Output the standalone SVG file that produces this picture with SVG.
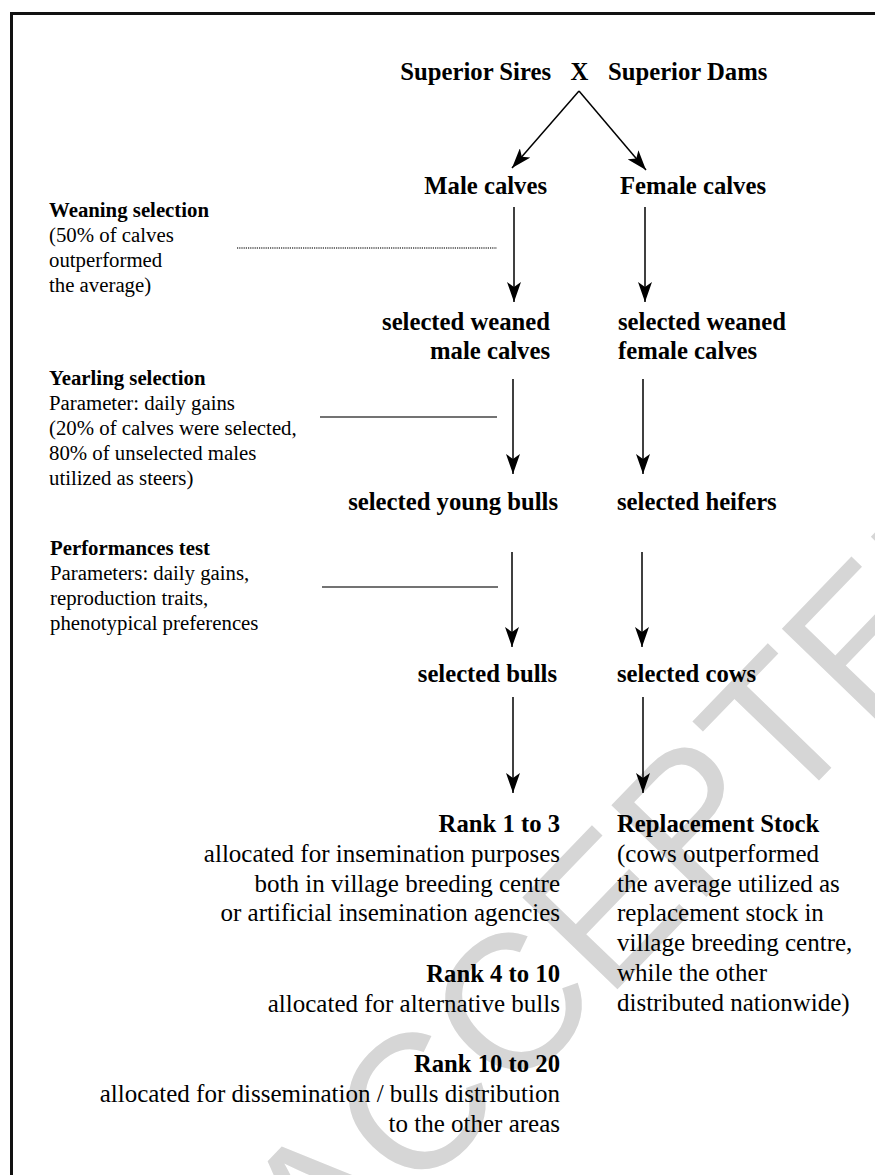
<svg xmlns="http://www.w3.org/2000/svg" width="875" height="1175" viewBox="0 0 875 1175">
<style>
.b{font-family:"Liberation Serif","Times New Roman",serif;font-weight:bold;font-size:24.7px;fill:#000}
.r{font-family:"Liberation Serif","Times New Roman",serif;font-size:25px;fill:#000}
.lb{font-family:"Liberation Serif","Times New Roman",serif;font-weight:bold;font-size:20.8px;fill:#000}
.lr{font-family:"Liberation Serif","Times New Roman",serif;font-size:20.8px;fill:#000}
.e{text-anchor:end}
.arr{stroke:#000;stroke-width:1.5;fill:none;marker-end:url(#ah)}
.lead{stroke:#444;stroke-width:1.4;fill:none}
.wm{font-family:"Liberation Sans",Arial,sans-serif;font-size:192px;fill:#d6d6d6}
</style>
<defs>
<marker id="ah" viewBox="0 0 20 14" refX="20" refY="7" markerWidth="20" markerHeight="14" markerUnits="userSpaceOnUse" orient="auto">
<path d="M0,0 L20,7 L0,14 L5,7 Z" fill="#000"/>
</marker>
</defs>
<rect width="875" height="1175" fill="#fff"/>
<g id="watermark">
<text class="wm" transform="translate(325,1292) rotate(-46)">ACCEPTED</text>
</g>
<rect x="11.5" y="13.5" width="900" height="1200" fill="none" stroke="#111" stroke-width="3"/>
<g id="connectors">
<line class="arr" x1="579" y1="91" x2="512" y2="168"/>
<line class="arr" x1="579" y1="91" x2="646" y2="170"/>
<line class="arr" x1="514" y1="207" x2="514" y2="302"/>
<line class="arr" x1="645" y1="207" x2="645" y2="302"/>
<line class="arr" x1="513" y1="379" x2="513" y2="474"/>
<line class="arr" x1="643" y1="379" x2="643" y2="474"/>
<line class="arr" x1="512" y1="552" x2="512" y2="647"/>
<line class="arr" x1="642" y1="552" x2="642" y2="647"/>
<line class="arr" x1="513" y1="697" x2="513" y2="793"/>
<line class="arr" x1="643" y1="697" x2="643" y2="793"/>
<line class="lead" x1="237" y1="248" x2="497" y2="248" stroke-dasharray="1.2 1"/>
<line class="lead" x1="320" y1="417" x2="497" y2="417"/>
<line class="lead" x1="322" y1="587" x2="498" y2="587"/>
</g>
<g id="parents">
<text class="b e" x="551" y="80">Superior Sires</text>
<text class="b" x="579.5" y="80" text-anchor="middle">X</text>
<text class="b" x="608" y="80">Superior Dams</text>
</g>
<g id="male-calves"><text class="b e" x="547" y="194">Male calves</text></g>
<g id="female-calves"><text class="b" x="620" y="194">Female calves</text></g>
<g id="weaned-male"><text class="b e" x="550" y="330">selected weaned</text><text class="b e" x="550" y="359">male calves</text></g>
<g id="weaned-female"><text class="b" x="618" y="330">selected weaned</text><text class="b" x="618" y="359">female calves</text></g>
<g id="young-bulls"><text class="b e" x="558" y="510">selected young bulls</text></g>
<g id="heifers"><text class="b" x="617" y="510">selected heifers</text></g>
<g id="bulls"><text class="b e" x="557" y="682">selected bulls</text></g>
<g id="cows"><text class="b" x="617" y="682">selected cows</text></g>
<g id="weaning-selection">
<text class="lb" x="49" y="217">Weaning selection</text>
<text class="lr" x="49" y="242">(50% of calves</text>
<text class="lr" x="49" y="267">outperformed</text>
<text class="lr" x="49" y="292">the average)</text>
</g>
<g id="yearling-selection">
<text class="lb" x="49" y="385">Yearling selection</text>
<text class="lr" x="49" y="410">Parameter: daily gains</text>
<text class="lr" x="49" y="435">(20% of calves were selected,</text>
<text class="lr" x="49" y="460">80% of unselected males</text>
<text class="lr" x="49" y="485">utilized as steers)</text>
</g>
<g id="performance-test">
<text class="lb" x="50" y="555">Performances test</text>
<text class="lr" x="50" y="580">Parameters: daily gains,</text>
<text class="lr" x="50" y="605">reproduction traits,</text>
<text class="lr" x="50" y="630">phenotypical preferences</text>
</g>
<g id="rank-1-3">
<text class="b e" x="560" y="832">Rank 1 to 3</text>
<text class="r e" x="560" y="862">allocated for insemination purposes</text>
<text class="r e" x="560" y="892">both in village breeding centre</text>
<text class="r e" x="560" y="921">or artificial insemination agencies</text>
</g>
<g id="rank-4-10">
<text class="b e" x="560" y="982">Rank 4 to 10</text>
<text class="r e" x="560" y="1012">allocated for alternative bulls</text>
</g>
<g id="rank-10-20">
<text class="b e" x="560" y="1072">Rank 10 to 20</text>
<text class="r e" x="560" y="1102">allocated for dissemination / bulls distribution</text>
<text class="r e" x="560" y="1132">to the other areas</text>
</g>
<g id="replacement-stock">
<text class="b" x="617" y="832">Replacement Stock</text>
<text class="r" x="617" y="862">(cows outperformed</text>
<text class="r" x="617" y="892">the average utilized as</text>
<text class="r" x="617" y="921">replacement stock in</text>
<text class="r" x="617" y="951">village breeding centre,</text>
<text class="r" x="617" y="981">while the other</text>
<text class="r" x="617" y="1011">distributed nationwide)</text>
</g>
</svg>
